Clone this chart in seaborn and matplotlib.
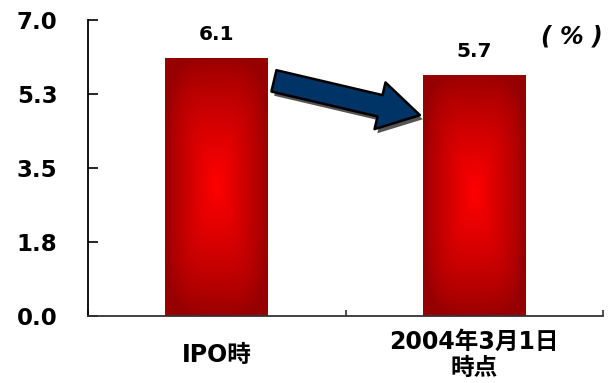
import numpy as np
import matplotlib
matplotlib.use("Agg")
import matplotlib.pyplot as plt
import matplotlib.patheffects as pe
import pandas as pd
import seaborn as sns

# Chart data
categories = ["IPO時", "2004年3月1日\n時点"]
values = [6.1, 5.7]
ytick_values = [0.0, 1.75, 3.5, 5.25, 7.0]
ytick_labels = ["0.0", "1.8", "3.5", "5.3", "7.0"]
unit_label = "( % )"

sns.set_theme(style="white")
plt.rcParams["font.family"] = ["DejaVu Sans", "Noto Sans CJK JP"]
plt.rcParams["font.weight"] = "bold"

fig = plt.figure(figsize=(6.13, 3.83), dpi=100)
ax = fig.add_axes([88 / 613, 67 / 383, 515 / 613, 296 / 383])

df = pd.DataFrame({"cat": categories, "val": values})
sns.barplot(data=df, x="cat", y="val", ax=ax, width=0.4, color="red",
            saturation=1)

# Red rectangular "from centre" gradient fill for each bar
gh, gw = 256, 128
gx = np.linspace(-1, 1, gw)
gy = np.linspace(0, 1, gh)
GX, GY = np.meshgrid(gx, gy)
cy = 0.51
DY = np.where(GY < cy, (cy - GY) / cy, (GY - cy) / (1 - cy))
D = np.clip((np.abs(GX) ** 4 + DY ** 4) ** 0.25, 0, 1)
c_center = np.array([1.0, 0.0, 0.0])
c_edge = np.array([0.59, 0.0, 0.0])
grad = c_edge + (c_center - c_edge) * ((1 - D) ** 0.8)[..., None]

for p in ax.patches:
    x0, y0 = p.get_x(), p.get_y()
    w, h = p.get_width(), p.get_height()
    im = ax.imshow(grad, extent=[x0, x0 + w, y0, y0 + h], origin="lower",
                   aspect="auto", interpolation="bilinear", zorder=2)
    im.set_clip_path(p)
    p.set_facecolor("none")
    p.set_edgecolor("none")

ax.set_xlim(-0.5, 1.5)
ax.set_ylim(0, 7)
ax.set_xlabel("")
ax.set_ylabel("")

# Value labels
ax.bar_label(ax.containers[0], fmt="%.1f", padding=10, fontsize=14.5,
             fontweight="bold", color="black")

# Axes styling
for side in ("top", "right"):
    ax.spines[side].set_visible(False)
ax.spines["left"].set_color("black")
ax.spines["left"].set_linewidth(1.3)
ax.spines["bottom"].set_color("#333333")
ax.spines["bottom"].set_linewidth(1.3)

ax.set_yticks(ytick_values, ytick_labels)
ax.tick_params(axis="y", left=True, direction="in", length=7.5, width=1.2,
               pad=22, labelsize=16.5, color="black", labelcolor="black")

ax.set_xticks([0, 1], categories)
ax.set_xticks([-0.5, 0.5, 1.5], minor=True)
ax.tick_params(axis="x", which="major", bottom=True, length=0, pad=28,
               labelsize=17, labelcolor="black")
ax.tick_params(axis="x", which="minor", bottom=True, direction="in",
               length=4, width=1.2, color="#333333")
for lab in ax.get_xticklabels():
    lab.set_verticalalignment("center")
    lab.set_linespacing(1.1)
    lab.set_fontweight("bold")
for lab in ax.get_yticklabels():
    lab.set_fontweight("bold")

# Block arrow showing the decline
ax.annotate(
    "", xy=(0.789, 4.75), xytext=(0.222, 5.56),
    arrowprops=dict(
        arrowstyle="simple,head_length=2.95,head_width=3.45,tail_width=1.58",
        mutation_scale=10, fc="#003366", ec="black", lw=1.8,
        shrinkA=0, shrinkB=0,
        path_effects=[pe.SimplePatchShadow(offset=(2, -3),
                                           shadow_rgbFace="#555555",
                                           alpha=1.0),
                      pe.Normal()],
    ),
    zorder=5,
)

# Unit label
ax.text(0.94, 0.943, unit_label, transform=ax.transAxes, ha="center",
        va="center", fontsize=17, fontstyle="italic", fontweight="bold",
        color="black")

fig.savefig("out.png", dpi=100)
